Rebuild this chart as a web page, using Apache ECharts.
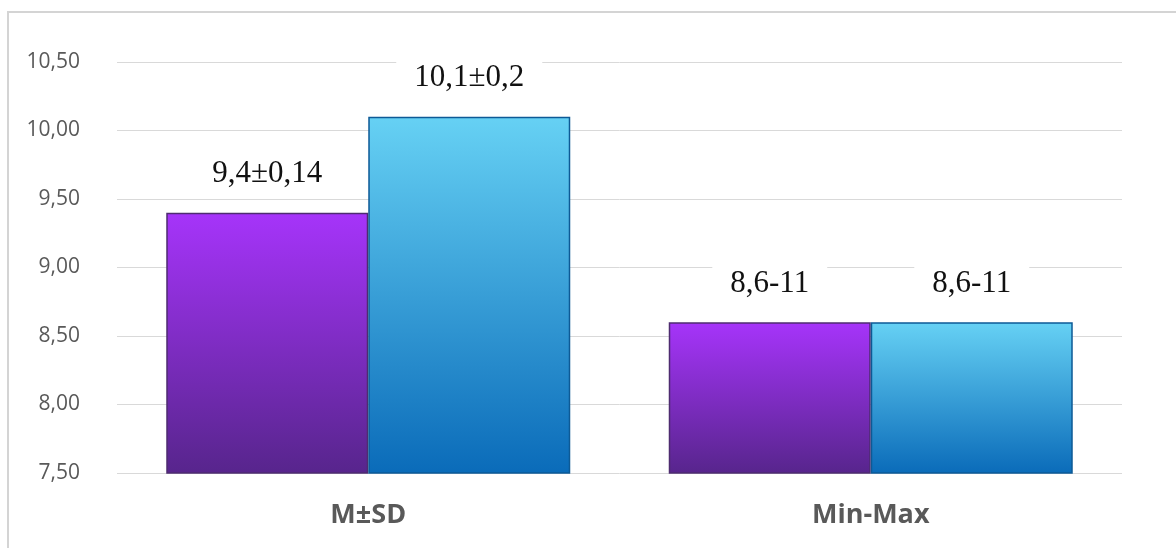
<!DOCTYPE html>
<html>
<head>
<meta charset="utf-8">
<script src="https://cdn.jsdelivr.net/npm/echarts@6/dist/echarts.min.js"></script>
<style>
  html, body { margin: 0; padding: 0; background: #ffffff; }
  #chart { width: 1176px; height: 548px; }
</style>
</head>
<body>
<div id="chart"></div>
<script>
// Categories along the x axis
const categories = ['M±SD', 'Min-Max'];

// Bar heights for the two groups
const seriesA = [9.4, 8.6];
const seriesB = [10.1, 8.6];

// Text shown above each bar
const labelsA = ['9,4±0,14', '8,6-11'];
const labelsB = ['10,1±0,2', '8,6-11'];

// Value axis ticks
const yTicks = [7.5, 8.0, 8.5, 9.0, 9.5, 10.0, 10.5];
const yTickLabels = ['7,50', '8,00', '8,50', '9,00', '9,50', '10,00', '10,50'];

const chart = echarts.init(document.getElementById('chart'), null, { renderer: 'canvas' });

function grad(top, bottom) {
  return new echarts.graphic.LinearGradient(0, 0, 0, 1, [
    { offset: 0, color: top },
    { offset: 1, color: bottom }
  ]);
}

const labelStyle = {
  show: true,
  position: 'top',
  distance: 19,
  fontFamily: '"Liberation Serif", "Times New Roman", serif',
  fontSize: 31,
  color: '#111111',
  backgroundColor: '#ffffff',
  padding: [6, 18, 4, 18]
};

const option = {
  backgroundColor: '#ffffff',
  animation: false,
  grid: { left: 117, right: 54, top: 62, bottom: 75 },
  graphic: [{
    type: 'polyline',
    silent: true,
    shape: { points: [[8, 548], [8, 12], [1176, 12]] },
    style: { stroke: '#d4d4d4', lineWidth: 2, fill: null }
  }],
  xAxis: {
    type: 'category',
    data: categories,
    axisLine: { show: false },
    axisTick: { show: false },
    axisLabel: {
      margin: 29,
      fontFamily: '"Open Sans", sans-serif',
      fontWeight: 'bold',
      fontSize: 27,
      color: '#595959'
    }
  },
  yAxis: {
    type: 'value',
    min: yTicks[0],
    max: yTicks[yTicks.length - 1],
    interval: 0.5,
    axisLine: { show: false },
    axisTick: { show: false },
    splitLine: { lineStyle: { color: '#d9d9d9', width: 1 } },
    axisLabel: {
      margin: 37,
      fontFamily: '"Open Sans", sans-serif',
      fontSize: 21,
      color: '#595959',
      formatter: function (v) {
        const i = yTicks.findIndex(t => Math.abs(t - v) < 1e-6);
        return i >= 0 ? yTickLabels[i] : '';
      }
    }
  },
  series: [
    {
      type: 'bar',
      data: seriesA,
      barGap: '0%',
      barCategoryGap: '19.6%',
      itemStyle: {
        color: grad('#a634fa', '#57258c'),
        borderColor: '#4e2c70',
        borderWidth: 1.5
      },
      label: Object.assign({}, labelStyle, {
        formatter: p => labelsA[p.dataIndex]
      })
    },
    {
      type: 'bar',
      data: seriesB,
      itemStyle: {
        color: grad('#66d1f4', '#0a6bb9'),
        borderColor: '#0d5a96',
        borderWidth: 1.5
      },
      label: Object.assign({}, labelStyle, {
        formatter: p => labelsB[p.dataIndex]
      })
    }
  ]
};

chart.setOption(option);
</script>
</body>
</html>
